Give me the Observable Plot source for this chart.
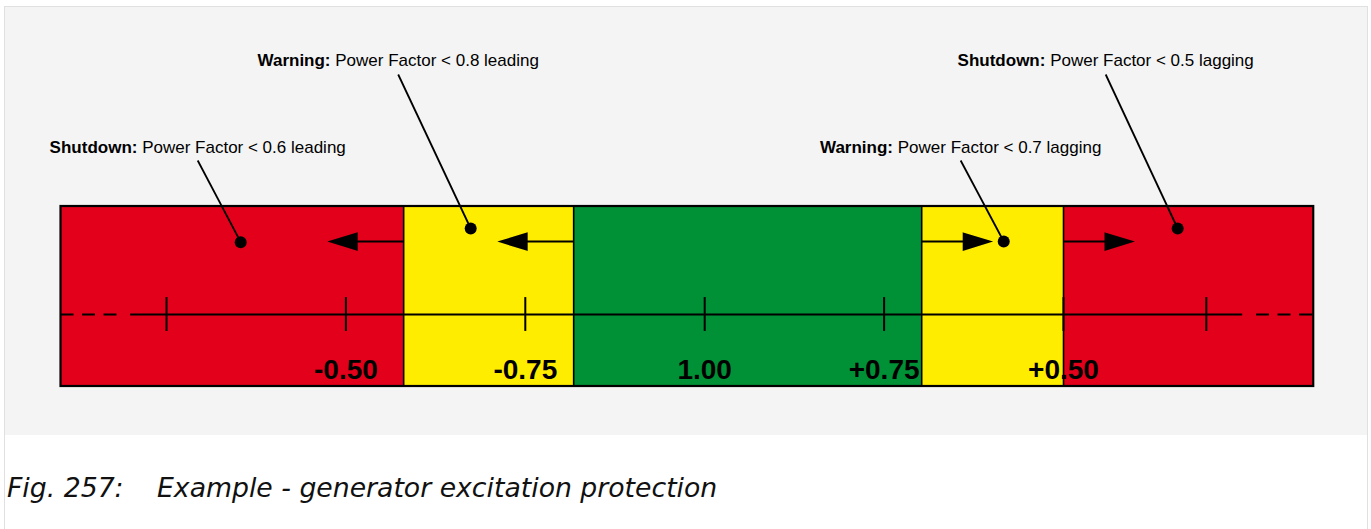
<!DOCTYPE html>
<html>
<head>
<meta charset="utf-8">
<script src="https://cdn.jsdelivr.net/npm/d3@7"></script>
<script src="https://cdn.jsdelivr.net/npm/@observablehq/plot@0.6"></script>
<style>
  html, body { margin: 0; padding: 0; background: #ffffff; width: 1371px; height: 529px; overflow: hidden; }
  #frame { position: absolute; left: 4px; top: 6px; width: 1362px; height: 540px; border: 1px solid #e0e0e0; border-bottom: none; }
  #panel { position: absolute; left: 5px; top: 7px; width: 1362px; height: 428px; background: #f4f4f4; }
  #panel svg { display: block; overflow: visible; }
  .cap { position: absolute; top: 475px; font-family: "DejaVu Sans", sans-serif; font-style: italic; font-size: 26.7px; line-height: 1; color: #111; white-space: nowrap; }
</style>
</head>
<body>
<div id="frame"></div>
<div id="panel"></div>
<div class="cap" style="left:7px">Fig. 257:</div>
<div class="cap" style="left:157px">Example - generator excitation protection</div>
<script>
// Zones along the power-factor scale (position units: 0 = PF 1.00, ±0.25 per printed step)
const zoneKind = ["Shutdown", "Warning", "Normal", "Warning", "Shutdown"];
const zoneFrom = [-0.897, -0.4195, -0.1826, 0.3024, 0.5];
const zoneTo   = [-0.4195, -0.1826, 0.3024, 0.5, 0.8487];

// Scale ticks and their labels
const tickPos = [-0.75, -0.5, -0.25, 0, 0.25, 0.5, 0.699];
const tickLabelPos = [-0.5, -0.25, 0, 0.25, 0.5];
const tickLabels = ["-0.50", "-0.75", "1.00", "+0.75", "+0.50"];

// Axis line: solid part and dashed continuations
const axisSolid = [-0.80, 0.7497];
const axisDashFrom = [-0.897, 0.769];
const axisDashTo = [-0.818, 0.8487];

// Direction arrows starting at each threshold
const arrowFrom = [-0.4195, -0.1826, 0.3024, 0.5];
const arrowDir = [-1, -1, 1, 1];

// Annotations
const annotBold = ["Shutdown:", "Warning:", "Warning:", "Shutdown:"];
const annotText = [" Power Factor < 0.6 leading", " Power Factor < 0.8 leading", " Power Factor < 0.7 lagging", " Power Factor < 0.5 lagging"];
const annotX = [-0.7065, -0.4271, 0.3567, 0.5588];
const annotRow = [0, 1, 0, 1];
const dotX = [-0.6466, -0.3261, 0.4167, 0.6591];
const dotY = [0.8017, 0.8778, 0.8056, 0.8778];

const rowBaseline = [1.2961, 1.7778];
const rowLeaderTop = [1.2556, 1.7333];

const zones = zoneKind.map((k, i) => ({kind: k, from: zoneFrom[i], to: zoneTo[i]}));
const annots = annotBold.map((b, i) => ({
  label: b + annotText[i],
  lx: annotX[i],
  ty: rowBaseline[annotRow[i]],
  ly: rowLeaderTop[annotRow[i]],
  dx: dotX[i],
  dy: dotY[i]
}));
const dashes = axisDashFrom.map((a, i) => ({a, b: axisDashTo[i]}));
const arrows = arrowFrom.map((x, i) => ({x, dir: arrowDir[i]}));

const HEAD = 26, WING = 8;
const arrowShape = {
  draw(context, l) {
    context.moveTo(0, 0);
    context.lineTo(0, -(l - HEAD));
    context.moveTo(-WING, -(l - HEAD));
    context.lineTo(0, -l);
    context.lineTo(WING, -(l - HEAD));
    context.closePath();
  }
};
const arrowStyle = {
  x: "x", y: () => 0.805, anchor: "start", shape: arrowShape,
  stroke: "black", fill: "black", strokeWidth: 2, strokeLinejoin: "miter", strokeLinecap: "butt"
};

const chart = Plot.plot({
  width: 1362,
  height: 428,
  style: {background: "transparent", overflow: "visible"},
  x: {domain: [-0.75, 0.5], range: [161, 1058], axis: null},
  y: {domain: [0, 1], range: [379, 199], axis: null},
  color: {domain: ["Shutdown", "Warning", "Normal"], range: ["#e2001a", "#ffed00", "#009036"]},
  marks: [
    Plot.rect(zones, {x1: "from", x2: "to", y1: 0, y2: 1, fill: "kind"}),
    Plot.text(tickLabels, {
      x: (d, i) => tickLabelPos[i], y: 0.044, text: d => d,
      fontSize: 28, fontWeight: "bold", fontFamily: "Liberation Sans, Arial, sans-serif",
      lineAnchor: "bottom", textAnchor: "middle", fill: "black"
    }),
    Plot.ruleX(zoneFrom.slice(1), {y1: 0, y2: 1, stroke: "black", strokeWidth: 1.6}),
    Plot.rect([0], {x1: d3.min(zoneFrom), x2: d3.max(zoneTo), y1: 0, y2: 1, fill: "none", stroke: "black", strokeWidth: 2.2}),
    Plot.ruleY([0.4], {x1: axisSolid[0], x2: axisSolid[1], stroke: "black", strokeWidth: 2}),
    Plot.ruleY(dashes, {y: () => 0.4, x1: "a", x2: "b", stroke: "black", strokeWidth: 2, strokeDasharray: "13,8.5"}),
    Plot.ruleX(tickPos, {y1: 0.306, y2: 0.494, stroke: "black", strokeWidth: 2}),
    Plot.vector(arrows.filter(d => d.dir < 0), {...arrowStyle, rotate: -90, length: 73}),
    Plot.vector(arrows.filter(d => d.dir > 0), {...arrowStyle, rotate: 90, length: 68}),
    Plot.link(annots, {x1: "lx", y1: "ly", x2: "dx", y2: "dy", stroke: "black", strokeWidth: 1.8}),
    Plot.dot(annots, {x: "dx", y: "dy", r: 6, fill: "black"}),
    Plot.text(annots, {
      x: "lx", y: "ty", text: "label", lineAnchor: "bottom", textAnchor: "middle",
      fontSize: 17, fontFamily: "Liberation Sans, Arial, sans-serif", fill: "black"
    })
  ]
});

// Bold prefix inside each annotation label
chart.querySelectorAll("text").forEach(t => {
  const m = /^(Shutdown:|Warning:)(.*)$/.exec(t.textContent);
  if (!m) return;
  t.textContent = "";
  const b = document.createElementNS("http://www.w3.org/2000/svg", "tspan");
  b.setAttribute("font-weight", "bold");
  b.textContent = m[1];
  const r = document.createElementNS("http://www.w3.org/2000/svg", "tspan");
  r.textContent = m[2];
  t.style.whiteSpace = "pre";
  t.appendChild(b);
  t.appendChild(r);
});

document.getElementById("panel").appendChild(chart);
</script>
</body>
</html>
